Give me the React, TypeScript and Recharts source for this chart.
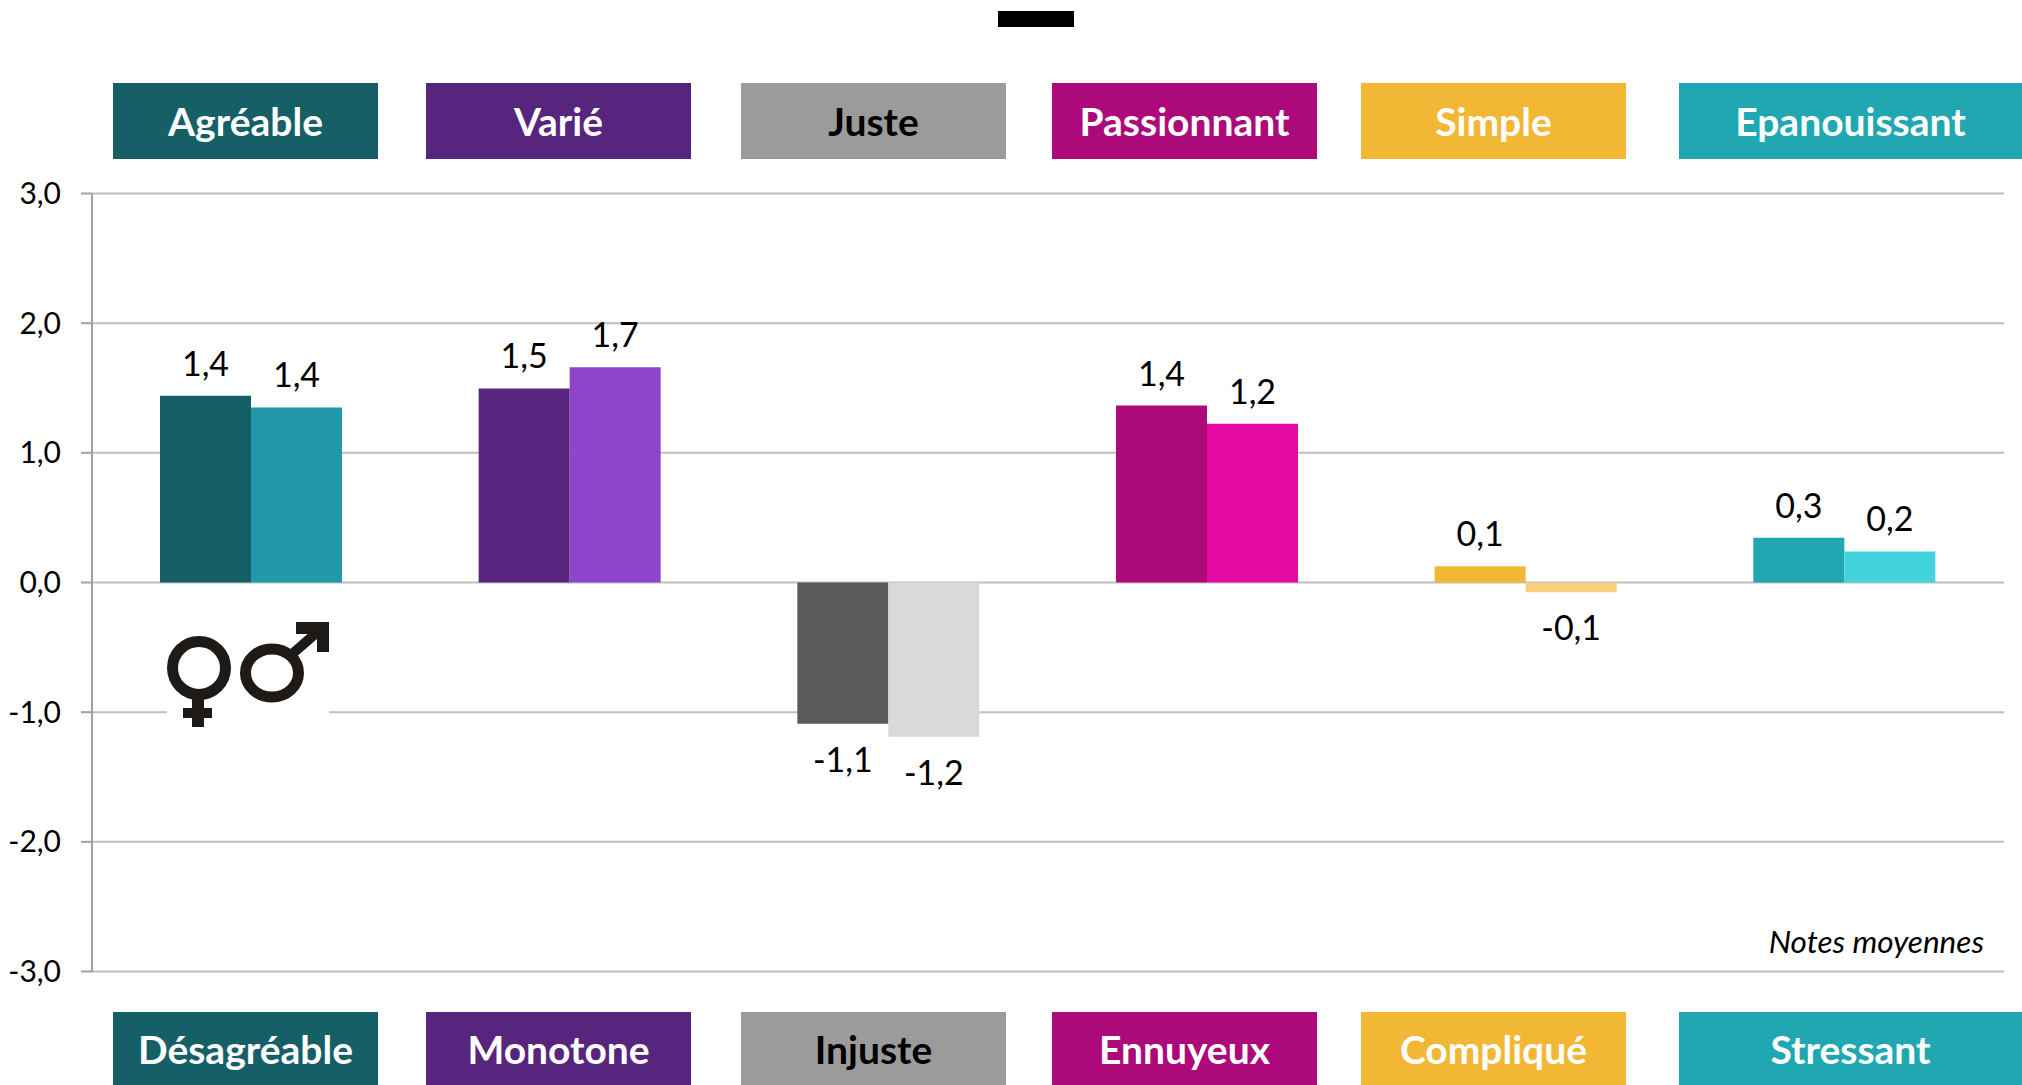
import React from "react";
import { BarChart, Bar, Cell, CartesianGrid, XAxis, YAxis, LabelList } from "recharts";

const categories = ["Agréable", "Varié", "Juste", "Passionnant", "Simple", "Epanouissant"];
const bottomLabels = ["Désagréable", "Monotone", "Injuste", "Ennuyeux", "Compliqué", "Stressant"];
const femmes = [1.44, 1.497, -1.09, 1.365, 0.125, 0.345];
const hommes = [1.35, 1.66, -1.19, 1.225, -0.075, 0.24];
const femmesColors = ["#165F66", "#57247E", "#5A5A5A", "#AC0A7B", "#F2B835", "#20A7B2"];
const hommesColors = ["#2199A8", "#8E44CB", "#D9D9D9", "#E20AA3", "#F8D07C", "#43D3DF"];
const boxColors = ["#165F66", "#57247E", "#9B9B9B", "#AC0A7B", "#F2B835", "#20A7B2"];
const boxTextColors = ["#fff", "#fff", "#000", "#fff", "#fff", "#fff"];
const yTicks = [-3, -2, -1, 0, 1, 2, 3];

const boxLefts = [113, 426, 741, 1052, 1361, 1679];
const boxRights = [378, 691, 1006, 1317, 1626, 2022];

const FONT = "Lato, sans-serif";
const fmt = (v: number) => v.toFixed(1).replace(".", ",");
const data = categories.map((c, i) => ({ name: c, femmes: femmes[i], hommes: hommes[i] }));

const renderValue = (p: any) => {
  const { x, y, width, height, value } = p;
  const top = Math.min(y, y + height);
  const bottom = Math.max(y, y + height);
  const ty = value >= 0 ? top - 20 : bottom + 48;
  return (
    <text x={x + width / 2} y={ty} textAnchor="middle" fontFamily={FONT} fontSize={34} fill="#000">
      {fmt(value)}
    </text>
  );
};

function Box({ i, top, height, text }: { i: number; top: number; height: number; text: string }) {
  return (
    <div
      style={{
        position: "absolute",
        left: boxLefts[i],
        top,
        width: boxRights[i] - boxLefts[i],
        height,
        background: boxColors[i],
        color: boxTextColors[i],
        fontFamily: FONT,
        fontWeight: 700,
        fontSize: 39,
        display: "flex",
        alignItems: "center",
        justifyContent: "center",
      }}
    >
      {text}
    </div>
  );
}

export default function App() {
  return (
    <div style={{ position: "fixed", left: 0, top: 0, width: 2022, height: 1085, background: "#fff", overflow: "hidden" }}>
      <div style={{ position: "absolute", left: 998, top: 11, width: 76, height: 16, background: "#000" }} />
      {categories.map((t, i) => (
        <Box key={t} i={i} top={83} height={76} text={t} />
      ))}
      {bottomLabels.map((t, i) => (
        <Box key={t} i={i} top={1012} height={73} text={t} />
      ))}
      <div style={{ position: "absolute", left: 0, top: 0 }}>
        <BarChart
          width={2022}
          height={1085}
          data={data}
          margin={{ top: 193.5, right: 18, bottom: 113.5, left: 0 }}
          barSize={91}
          barGap={0}
        >
          <CartesianGrid horizontal vertical={false} stroke="#BFBFBF" strokeWidth={2} />
          <XAxis dataKey="name" hide />
          <YAxis
            width={92}
            domain={[-3, 3]}
            ticks={yTicks}
            interval={0}
            tickFormatter={fmt}
            tickLine={{ stroke: "#A0A0A0", strokeWidth: 2 }}
            axisLine={{ stroke: "#A0A0A0", strokeWidth: 2 }}
            tickSize={11}
            tickMargin={20}
            tick={{ fontFamily: FONT, fontSize: 30, fill: "#000" }}
          />
          <Bar dataKey="femmes" isAnimationActive={false}>
            {femmesColors.map((c, i) => (
              <Cell key={i} fill={c} />
            ))}
            <LabelList dataKey="femmes" content={renderValue} />
          </Bar>
          <Bar dataKey="hommes" isAnimationActive={false}>
            {hommesColors.map((c, i) => (
              <Cell key={i} fill={c} />
            ))}
            <LabelList dataKey="hommes" content={renderValue} />
          </Bar>
        </BarChart>
      </div>
      <svg width={170} height={120} style={{ position: "absolute", left: 165, top: 618 }} viewBox="165 618 170 120">
        <rect x={167} y={626} width={162} height={112} fill="#fff" />
        <g fill="none" stroke="#1E1A18" strokeWidth={11}>
          <circle cx={199} cy={668} r={26.5} />
          <ellipse cx={272} cy={673} rx={26.5} ry={24} />
          <path d="M291 655 L322 628" strokeWidth={10} />
        </g>
        <path d="M192 692 H204 V708 H212 V718 H204 V727 H192 V718 H183 V708 H192 Z" fill="#1E1A18" />
        <path d="M296 622 H329 V652 H317 V634 H296 Z" fill="#1E1A18" />
      </svg>
      <div
        style={{
          position: "absolute",
          right: 38,
          top: 923,
          fontFamily: FONT,
          fontStyle: "italic",
          fontSize: 31.5,
          lineHeight: "36px",
          color: "#000",
        }}
      >
        Notes moyennes
      </div>
    </div>
  );
}
